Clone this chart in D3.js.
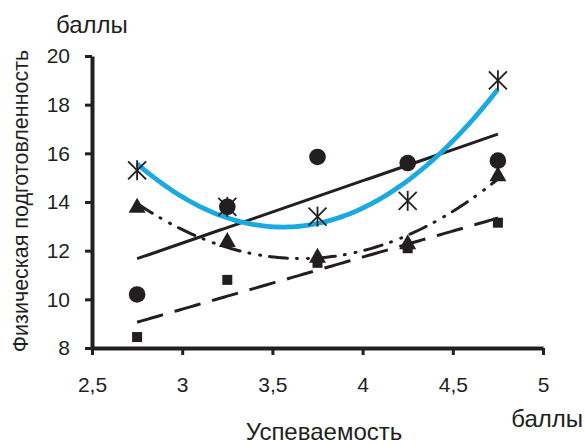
<!DOCTYPE html>
<html>
<head>
<meta charset="utf-8">
<script src="https://cdn.jsdelivr.net/npm/d3@7"></script>
<style>
  body { margin: 0; background: #fff; }
  svg { display: block; font-family: "Liberation Sans", Arial, sans-serif; }
</style>
</head>
<body>
<svg id="chart" width="585" height="445"></svg>
<script>
// data
const grades = [2.75, 3.25, 3.75, 4.25, 4.75];
const circleVals = [10.2, 13.8, 15.85, 15.6, 15.7];
const starVals = [15.3, 13.8, 13.4, 14.05, 19.0];
const triangleVals = [13.8, 12.4, 11.75, 12.3, 15.1];
const squareVals = [8.45, 10.8, 11.5, 12.1, 13.15];
const xTicks = [2.5, 3, 3.5, 4, 4.5, 5];
const yTicks = [8, 10, 12, 14, 16, 18, 20];

const svg = d3.select('#chart');
const x = d3.scaleLinear().domain([2.5, 5]).range([92, 543]);
const y = d3.scaleLinear().domain([8, 20]).range([348, 56]);
const comma = d => String(d).replace('.', ',');
const ink = '#231f20';

// least squares polynomial fit (excel-style trendline)
function polyfit(xs, ys, deg) {
  const n = deg + 1;
  const A = [];
  for (let i = 0; i < n; i++) {
    A.push([]);
    for (let j = 0; j < n; j++) A[i].push(d3.sum(xs, v => Math.pow(v, i + j)));
    A[i].push(d3.sum(xs, (v, k) => ys[k] * Math.pow(v, i)));
  }
  for (let i = 0; i < n; i++) {
    for (let r = i + 1; r < n; r++) {
      const f = A[r][i] / A[i][i];
      for (let c = i; c <= n; c++) A[r][c] -= f * A[i][c];
    }
  }
  const coef = new Array(n).fill(0);
  for (let i = n - 1; i >= 0; i--) {
    let s = A[i][n];
    for (let j = i + 1; j < n; j++) s -= A[i][j] * coef[j];
    coef[i] = s / A[i][i];
  }
  return v => d3.sum(coef, (c, i) => c * Math.pow(v, i));
}

const line = d3.line().x(d => x(d[0])).y(d => y(d[1]));
const samples = d3.range(grades[0], grades[4] + 0.001, 0.02);

function trend(vals, deg, style) {
  const f = polyfit(grades, vals, deg);
  svg.append('path')
    .attr('d', line(samples.map(v => [v, f(v)])))
    .attr('fill', 'none')
    .attr('stroke', style.color || ink)
    .attr('stroke-width', style.width || 3)
    .attr('stroke-dasharray', style.dash || null)
    .attr('stroke-linecap', style.cap || 'butt');
}

// axes
const yAxis = svg.append('g')
  .attr('transform', 'translate(' + x(2.5) + ',0)')
  .call(d3.axisLeft(y).tickValues(yTicks).tickSize(7).tickSizeOuter(0).tickPadding(15).tickFormat(comma));
const xAxis = svg.append('g')
  .attr('transform', 'translate(0,' + y(8) + ')')
  .call(d3.axisBottom(x).tickValues(xTicks).tickSize(7).tickSizeOuter(0).tickPadding(22).tickFormat(comma));
[yAxis, xAxis].forEach(g => {
  g.select('.domain').attr('stroke', ink).attr('stroke-width', 4);
  g.selectAll('.tick line').attr('stroke', ink).attr('stroke-width', 3);
  g.selectAll('.tick text').attr('fill', ink).style('font-size', '21px');
});

// trendlines
trend(squareVals, 1, { dash: '27,12', width: 3 });
trend(triangleVals, 2, { dash: '18,9,1,10,1,9', width: 3, cap: 'round' });
trend(circleVals, 1, { width: 3 });
trend(starVals, 2, { color: '#1aa9e1', width: 4.8 });

// stars (behind circles)
const star = svg.append('g');
grades.forEach((g, i) => {
  const cx = x(g), cy = y(starVals[i]);
  [[-9, -9, 9, 9], [-9, 9, 9, -9], [0, -10, 0, 10]].forEach(s => {
    star.append('line')
      .attr('x1', cx + s[0]).attr('y1', cy + s[1])
      .attr('x2', cx + s[2]).attr('y2', cy + s[3])
      .attr('stroke', ink).attr('stroke-width', 1.8);
  });
});

// squares
svg.append('g').selectAll('rect')
  .data(grades)
  .join('rect')
  .attr('x', d => x(d) - 5)
  .attr('y', (d, i) => y(squareVals[i]) - 5)
  .attr('width', 10).attr('height', 10)
  .attr('fill', ink);

// circles
svg.append('g').selectAll('circle')
  .data(grades)
  .join('circle')
  .attr('cx', d => x(d))
  .attr('cy', (d, i) => y(circleVals[i]))
  .attr('r', 8.3)
  .attr('fill', ink);

// triangles
svg.append('g').selectAll('path')
  .data(grades)
  .join('path')
  .attr('d', (d, i) => {
    const cx = x(d), cy = y(triangleVals[i]);
    return 'M' + cx + ',' + (cy - 9) + 'L' + (cx + 8.5) + ',' + (cy + 6) + 'L' + (cx - 8.5) + ',' + (cy + 6) + 'Z';
  })
  .attr('fill', ink);

// titles
svg.append('text').attr('x', 56).attr('y', 33).attr('fill', ink)
  .style('font-size', '24px').text('баллы');
svg.append('text').attr('x', 583).attr('y', 427).attr('text-anchor', 'end').attr('fill', ink)
  .style('font-size', '24px').text('баллы');
svg.append('text').attr('x', 324).attr('y', 440).attr('text-anchor', 'middle').attr('fill', ink)
  .style('font-size', '24px').text('Успеваемость');
svg.append('text').attr('transform', 'translate(28,201) rotate(-90)').attr('text-anchor', 'middle').attr('fill', ink)
  .style('font-size', '21.5px').text('Физическая подготовленность');
</script>
</body>
</html>
